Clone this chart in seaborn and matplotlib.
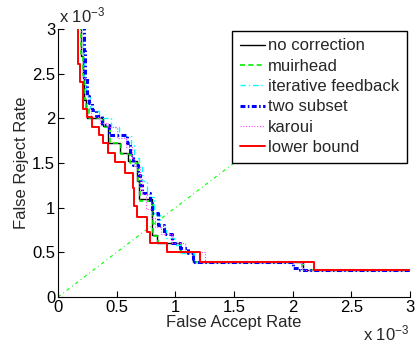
import numpy as np
import pandas as pd
import matplotlib
matplotlib.use('Agg')
import matplotlib.pyplot as plt
import seaborn as sns

# False accept / false reject rates, in units of 1e-3 (stair-step curves)
labels = ['no correction', 'muirhead', 'iterative feedback', 'two subset',
          'karoui', 'lower bound']

none_far = [0.20, 0.21, 0.22, 0.235, 0.25, 0.38, 0.43, 0.53, 0.60, 0.67, 0.69,
            0.80, 0.84, 1.04, 1.15, 2.09, 3.0]
none_frr = [3.05, 2.70, 2.45, 2.20, 2.10, 2.00, 1.91, 1.72, 1.61, 1.52, 1.30,
            1.10, 0.69, 0.60, 0.50, 0.39, 0.30]

muir_far = [0.20, 0.21, 0.22, 0.24, 0.26, 0.38, 0.44, 0.54, 0.61, 0.68, 0.70,
            0.81, 0.85, 1.05, 1.16, 2.08, 3.0]
muir_frr = [3.05, 2.72, 2.48, 2.22, 2.10, 2.00, 1.90, 1.72, 1.60, 1.50, 1.30,
            1.08, 0.68, 0.60, 0.50, 0.39, 0.30]

iter_far = [0.21, 0.22, 0.24, 0.27, 0.30, 0.35, 0.45, 0.52, 0.62, 0.65, 0.69,
            0.72, 0.76, 0.82, 0.87, 0.92, 0.99, 1.06, 1.16, 2.09, 3.0]
iter_frr = [3.05, 2.72, 2.45, 2.25, 2.12, 2.08, 2.00, 1.90, 1.80, 1.70, 1.56,
            1.45, 1.30, 1.12, 0.92, 0.78, 0.66, 0.58, 0.49, 0.39, 0.30]

two_far = [0.22, 0.23, 0.245, 0.26, 0.29, 0.32, 0.375, 0.435, 0.59, 0.615, 0.64,
           0.68, 0.70, 0.72, 0.78, 0.80, 0.85, 0.90, 0.97, 1.04, 1.11, 1.15,
           2.00, 2.06, 3.0]
two_frr = [3.05, 2.75, 2.45, 2.25, 2.17, 2.09, 2.03, 1.93, 1.81, 1.72, 1.59,
           1.48, 1.37, 1.25, 1.16, 1.05, 0.94, 0.81, 0.70, 0.60, 0.55, 0.49,
           0.39, 0.33, 0.30]

karoui_far = [0.20, 0.215, 0.23, 0.25, 0.28, 0.36, 0.43, 0.50, 0.58, 0.63, 0.66,
              0.70, 0.72, 0.75, 0.79, 0.83, 0.88, 0.97, 1.08, 1.25, 2.08, 3.0]
karoui_frr = [3.05, 2.72, 2.45, 2.22, 2.10, 2.02, 1.95, 1.90, 1.78, 1.68, 1.55,
              1.45, 1.32, 1.15, 0.98, 0.88, 0.78, 0.70, 0.60, 0.50, 0.39, 0.30]

lower_far = [0.17, 0.19, 0.21, 0.25, 0.29, 0.35, 0.38, 0.43, 0.49, 0.57, 0.64,
             0.65, 0.67, 0.76, 0.78, 0.93, 1.21, 2.18, 3.0]
lower_frr = [3.05, 2.61, 2.41, 2.11, 2.01, 1.90, 1.81, 1.72, 1.61, 1.51, 1.39,
             1.22, 1.02, 0.90, 0.73, 0.60, 0.50, 0.39, 0.30]

# equal error rate diagonal
diag = [0.0, 3.0]

ticks = [0, 0.5, 1, 1.5, 2, 2.5, 3]
tick_labels = ['0', '0.5', '1', '1.5', '2', '2.5', '3']

sns.set_style('white')
plt.rcParams['font.family'] = ['Liberation Sans', 'DejaVu Sans']
plt.rcParams['mathtext.default'] = 'regular'
plt.rcParams['font.size'] = 12

fig = plt.figure(figsize=(4.2, 3.46), dpi=100)
ax = fig.add_axes([58 / 420, 49 / 346, 352 / 420, 268 / 346])

sns.lineplot(x=diag, y=diag, ax=ax, color='#00ff00', lw=0.8,
             estimator=None, sort=False)
ax.lines[-1].set_dashes((3, 3, 0.8, 3))

styles = [
    (none_far, none_frr, 'black', 1.0, None),
    (muir_far, muir_frr, '#00ee00', 1.2, (3, 2)),
    (iter_far, iter_frr, '#00ffff', 1.0, (4, 2, 1, 2)),
    (two_far, two_frr, '#0000ff', 2.2, (1.6, 0.8, 0.5, 0.8)),
    (karoui_far, karoui_frr, '#ff44ff', 0.8, (1, 1.5)),
    (lower_far, lower_frr, '#ff0000', 1.4, None),
]

handles = []
for (far, frr, color, lw, dashes), name in zip(styles, labels):
    df = pd.DataFrame({'FAR': far, 'FRR': frr})
    sns.lineplot(data=df, x='FAR', y='FRR', ax=ax, color=color, lw=lw,
                 drawstyle='steps-pre', estimator=None, sort=False)
    line = ax.lines[-1]
    if dashes is not None:
        line.set_dashes(dashes)
    line.set_label(name)
    handles.append(line)

ax.set_xlim(0, 3)
ax.set_ylim(0, 3)
ax.set_xticks(ticks)
ax.set_xticklabels(tick_labels)
ax.set_yticks(ticks)
ax.set_yticklabels(tick_labels)
ax.tick_params(direction='in', length=4, width=0.8, pad=2, labelsize=12,
               colors='black', bottom=True, left=True)
for side in ['top', 'right']:
    ax.spines[side].set_visible(False)
for side in ['left', 'bottom']:
    ax.spines[side].set_color('black')
    ax.spines[side].set_linewidth(0.8)

ax.set_xlabel('False Accept Rate', labelpad=0)
ax.set_ylabel('False Reject Rate', labelpad=2)

fig.text(59 / 420, 1 - 22 / 346, r'x 10$^{-3}$', fontsize=12, ha='left',
         va='baseline')
fig.text(409 / 420, 1 - 340 / 346, r'x 10$^{-3}$', fontsize=12, ha='right',
         va='baseline')

leg = ax.legend(handles=handles, loc='upper right', bbox_to_anchor=(0.991, 0.993),
                borderaxespad=0, frameon=True, fancybox=False, framealpha=1,
                edgecolor='black', handlelength=1.5, handletextpad=0.2,
                labelspacing=0.32, borderpad=0.45, fontsize=12)
leg.get_frame().set_linewidth(1.0)

fig.savefig('out.png', dpi=100)
